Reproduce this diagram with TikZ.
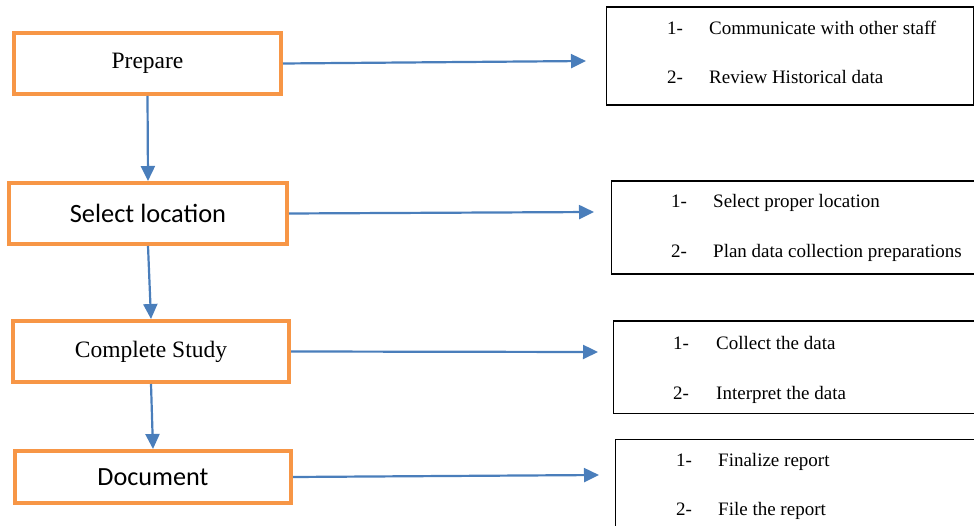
\documentclass[tikz,border=0pt]{standalone}
\usepackage{fontspec}
\setmainfont{Liberation Serif}
\newfontfamily\calibri{Carlito}
\usetikzlibrary{positioning, calc, arrows.meta}
\definecolor{stageorange}{HTML}{F79646}
\definecolor{flowblue}{HTML}{4A7EBB}

\begin{document}
\begin{tikzpicture}[
    x=1pt, y=-1pt,
    stage/.style={rectangle, draw=stageorange, line width=4pt, fill=white, minimum height=61pt, inner sep=0pt, font=\fontsize{23.5}{28}\selectfont},
    task/.style={rectangle, draw=black, line width=1.3pt, anchor=north west, inner sep=0pt},
    item/.style={anchor=base west, inner sep=0pt, font=\fontsize{19}{23}\selectfont},
    arrow/.style={-{Triangle[length=15pt, width=14pt]}, line width=2.2pt, flowblue}
]
    \useasboundingbox (0,0) rectangle (974,526);
    \clip (0,0) rectangle (974,526);

    % Stages
    \node[stage, minimum width=267pt] (prep) at (147.5,63.5) {Prepare};
    \node[stage, minimum width=278pt, font=\calibri\fontsize{26.4}{31}\selectfont] (sel) at (148,213.5) {Select location};
    \node[stage, minimum width=276pt] (comp) at (151,351.5) {Complete Study};
    \node[stage, minimum width=276pt, minimum height=52pt, font=\calibri\fontsize{26.2}{31}\selectfont] (doc) at (153,477) {Document};

    % Task boxes
    \node[task, minimum width=367pt, minimum height=98pt] (todo1) at (605.5,6.5) {};
    \node[task, minimum width=380pt, minimum height=93pt] (todo2) at (610.5,180.5) {};
    \node[task, minimum width=380pt, minimum height=92pt] (todo3) at (612.5,320.5) {};
    \node[task, minimum width=380pt, minimum height=100pt] (todo4) at (614.5,438.5) {};

    % Task items
    \node[item] (todo1-n1) at (667,35) {1-};
    \node[item] (todo1-t1) at (709,35) {Communicate with other staff};
    \node[item] (todo1-n2) at (667,84) {2-};
    \node[item] (todo1-t2) at (709,84) {Review Historical data};

    \node[item] (todo2-n1) at (671,208) {1-};
    \node[item] (todo2-t1) at (713,208) {Select proper location};
    \node[item] (todo2-n2) at (671,258) {2-};
    \node[item] (todo2-t2) at (713,258) {Plan data collection preparations};

    \node[item] (todo3-n1) at (673,349) {1-};
    \node[item] (todo3-t1) at (716,349) {Collect the data};
    \node[item] (todo3-n2) at (673,399) {2-};
    \node[item] (todo3-t2) at (716,399) {Interpret the data};

    \node[item] (todo4-n1) at (676,466) {1-};
    \node[item] (todo4-t1) at (718,466) {Finalize report};
    \node[item] (todo4-n2) at (676,515) {2-};
    \node[item] (todo4-t2) at (718,515) {File the report};

    % Arrow ends in front of the task boxes
    \coordinate (end1) at (586,61);
    \coordinate (end2) at (594,212);
    \coordinate (end3) at (598,352);
    \coordinate (end4) at (599,475);

    % Connections
    \draw[arrow] (prep.east) -- (end1);
    \draw[arrow] (sel.east) -- (end2);
    \draw[arrow] (comp.east) -- (end3);
    \draw[arrow] (doc.east) -- (end4);

    \foreach \a/\b in {prep/sel, sel/comp, comp/doc} {
        \draw[arrow] (\a.south) -- (\b.north);
    }

\end{tikzpicture}
\end{document}
